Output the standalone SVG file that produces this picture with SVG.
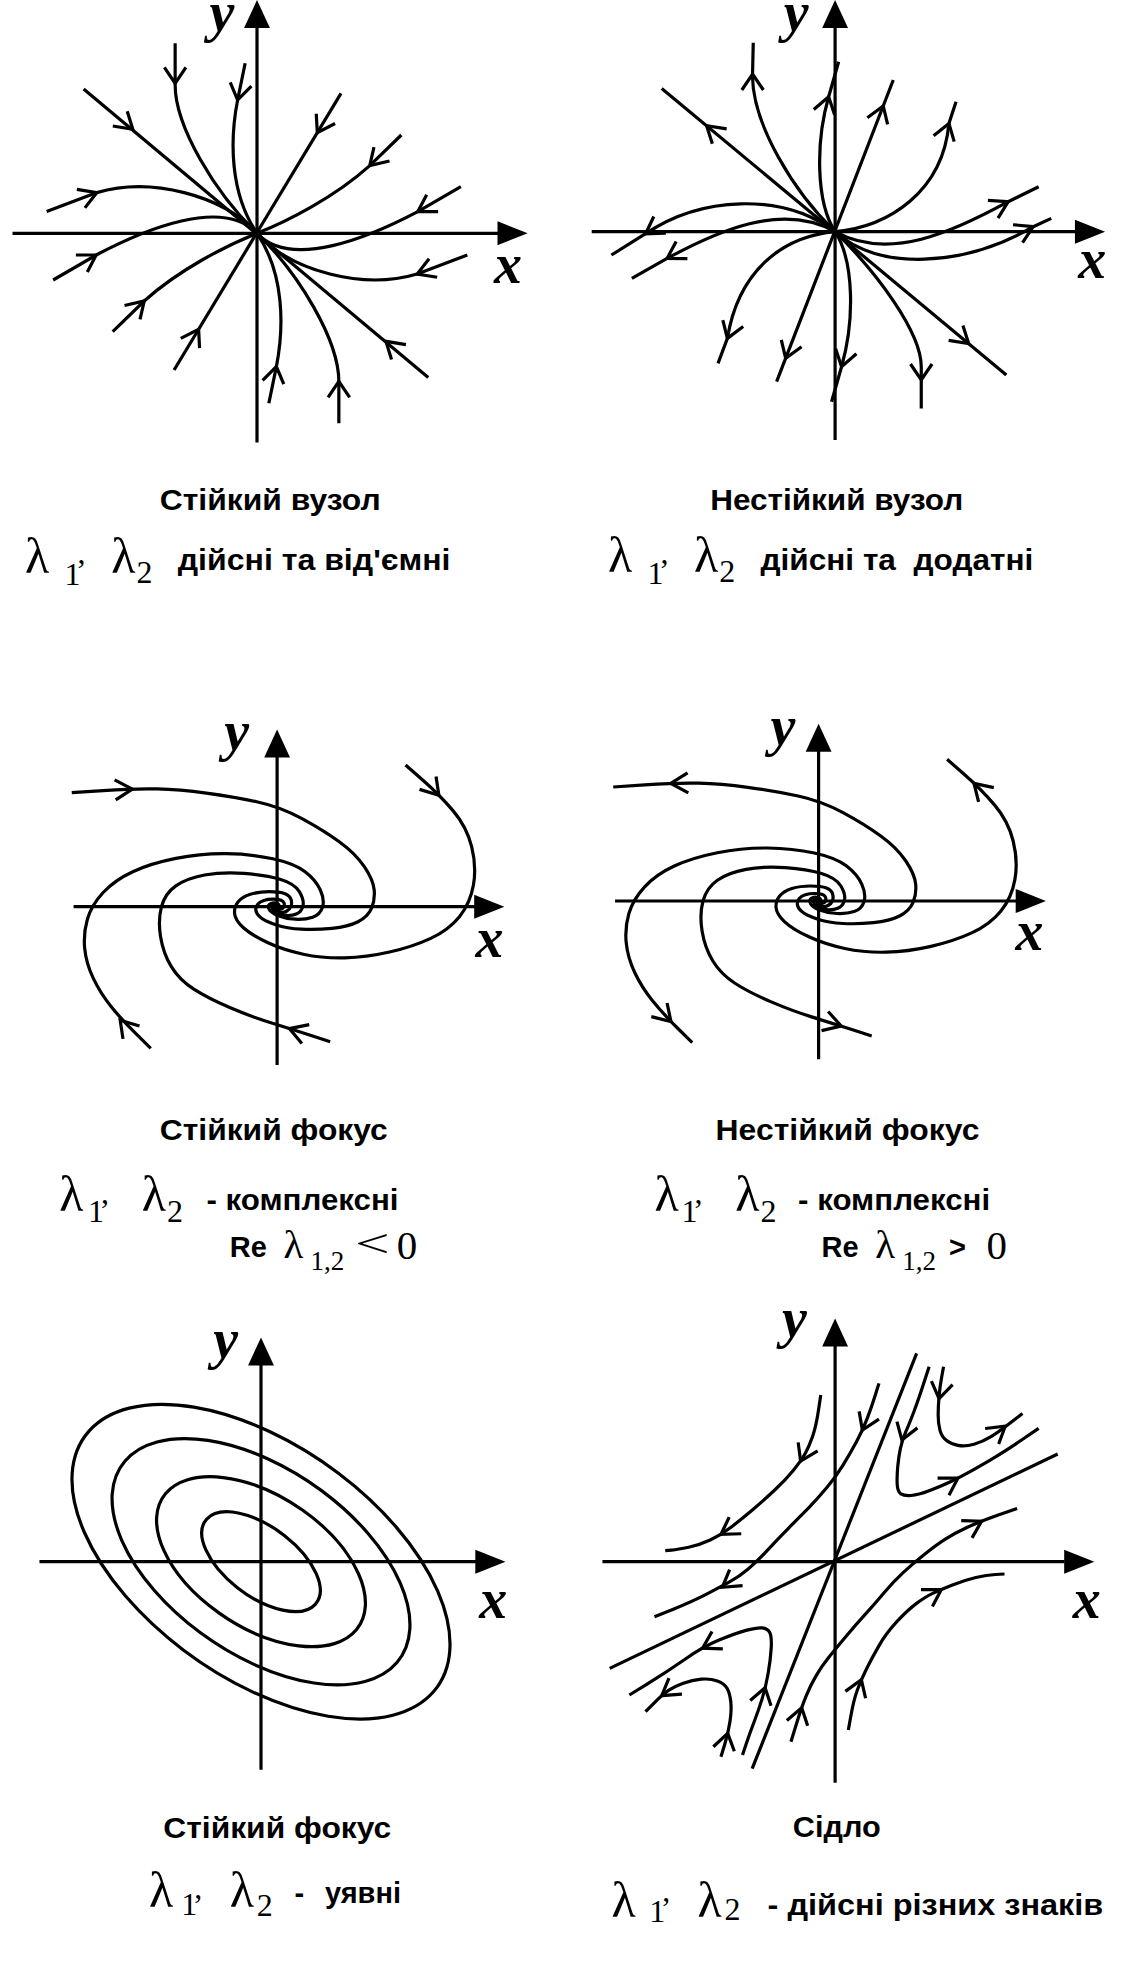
<svg xmlns="http://www.w3.org/2000/svg" width="1126" height="1962" viewBox="0 0 1126 1962">
<style>
.ln{fill:none;stroke:#000;stroke-width:3.2;vector-effect:non-scaling-stroke}
.al{font-family:"Liberation Serif","Times New Roman",serif;font-style:italic;font-weight:bold;font-size:56px}
.tt{font-family:"Liberation Sans",Arial,sans-serif;font-weight:bold;font-size:29px}
.lm{font-family:"Liberation Serif","Times New Roman",serif;font-size:50px}
.sb{font-family:"Liberation Serif","Times New Roman",serif;font-size:32px}
.lm2{font-family:"Liberation Serif","Times New Roman",serif;font-size:41px}
.sb2{font-family:"Liberation Serif","Times New Roman",serif;font-size:27px}
</style>
<defs>
<path id="ch" d="M-16,-10 L0,0 L-16,10" fill="none" stroke="#000" stroke-width="3.2" vector-effect="non-scaling-stroke"/>
<path id="ah" d="M0,0 L-28,-12 L-28,12 Z" fill="#000"/>
<g id="spiral">
<path class="ln" d="M-189,0 H184"/>
<use href="#ah" transform="translate(211,0)"/>
<path class="ln" d="M0,158.3 V-150"/>
<use href="#ah" transform="translate(0,-177.3) rotate(-90)"/>
<path class="ln" d="M-190.7,-114 L-161.5,-116.15 Q-132.3,-118.3 -111.5,-117.8 Q-90.7,-117.3 -65.7,-113.65 Q-40.7,-110 -19,-105 Q2.7,-100 22.7,-88.35 Q42.7,-76.7 57.7,-65 Q72.7,-53.3 81,-40 Q89.3,-26.7 90.15,-16.7 Q91,-6.7 87.65,1.65 Q84.3,10 75.15,15 Q66,20 51,21.65 Q36,23.3 22.65,22.5 Q9.3,21.7 -1.35,17.95 Q-12,14.2 -15.75,10.45 Q-19.5,6.7 -19.75,3.35 Q-20,0 -18,-2.5 Q-16,-5 -12.35,-6.25 Q-8.7,-7.5 -3.7,-7.5 Q1.3,-7.5 3.65,-6.5 Q6,-5.5 6.5,-3.5 Q7,-1.5 6.4,0 Q5.8,1.5 4.4,2.15 Q3,2.8 1.75,2.65 Q0.5,2.5 0,0"/>
<path class="ln" d="M119.3,-141.7 L135.15,-126.7 Q151,-111.7 163.5,-95.85 Q176,-80 180.65,-60 Q185.3,-40 182.3,-21.65 Q179.3,-3.3 169.3,10 Q159.3,23.3 142.65,31.65 Q126,40 104.35,45.35 Q82.7,50.7 62.7,51.2 Q42.7,51.7 24.35,47.5 Q6,43.3 -9,35.8 Q-24,28.3 -31.5,20.8 Q-39,13.3 -39.5,6.65 Q-40,0 -36.15,-5 Q-32.3,-10 -24.8,-12.5 Q-17.3,-15 -7.3,-15 Q2.7,-15 7.35,-13 Q12,-11 13,-7 Q14,-3 12.8,0 Q11.6,3 8.8,4.5 Q6,6 3.5,5.5 Q1,5 -0.5,3.5 Q-2,2 -1.5,0.5 Q-1,-1 0,0"/>
<path class="ln" d="M-117.3,141.7 L-130.65,127.5 Q-144,113.3 -154,100 Q-164,86.7 -170.65,71.7 Q-177.3,56.7 -178.65,41.7 Q-180,26.7 -176.15,12.5 Q-172.3,-1.7 -161.5,-14.2 Q-150.7,-26.7 -134,-35 Q-117.3,-43.3 -94,-48.3 Q-70.7,-53.3 -47.35,-53 Q-24,-52.7 -4,-48 Q16,-43.3 26,-35 Q36,-26.7 40.15,-16.7 Q44.3,-6.7 42.15,0.65 Q40,8 33,10.5 Q26,13 17,12.5 Q8,12 1,9 Q-6,6 -7.5,2.5 Q-9,-1 -7,-2.5 Q-5,-4 -2.5,-3.75 Q0,-3.5 1.25,-2.5 Q2.5,-1.5 0,0"/>
<path class="ln" d="M49.3,135 L30.15,128.35 Q11,121.7 -6.5,115.85 Q-24,110 -44,100.85 Q-64,91.7 -77.35,82.5 Q-90.7,73.3 -98.2,60 Q-105.7,46.7 -108.2,30 Q-110.7,13.3 -107.35,0 Q-104,-13.3 -94,-20.8 Q-84,-28.3 -67.35,-31.65 Q-50.7,-35 -30.7,-33.35 Q-10.7,-31.7 2.65,-27.5 Q16,-23.3 20.65,-15 Q25.3,-6.7 24,-0.85 Q22.7,5 18.35,7 Q14,9 9,8.75 Q4,8.5 0,6.25 Q-4,4 -4.5,1.75 Q-5,-0.5 -4,-1.75 Q-3,-3 -1.5,-2.5 Q0,-2 0,0"/>
</g>
</defs>
<rect width="1126" height="1962" fill="#fff"/>

<g id="panel-stable-node">
<g transform="translate(257,233.3)">
<g transform="scale(1.077,1)">
<g id="axes1">
<path class="ln" d="M-227,0 H224"/>
<use href="#ah" transform="translate(251.3,0)"/>
<path class="ln" d="M0,209.3 V-206"/>
<use href="#ah" transform="translate(0,-233.3) rotate(-90)"/>
</g>
<g id="traj1">
<path class="ln" d="M-161,-144.3 L159,144.3"/>
<path class="ln" d="M78,-140 L-77,136.7"/>
<path class="ln" d="M-76,-190 L-76,-148.3 C-76,-106.7 -38.7,-40 0,0 C38.7,40 76,106.7 76,148.3 L76,190"/>
<path class="ln" d="M-11,-170 L-18,-133.3 C-25.3,-93.3 -25.3,-40 0,0 C25.3,40 25.3,93.3 18,133.3 L11,170"/>
<path class="ln" d="M-195.3,-21.7 L-148.7,-40.7 C-98.7,-56.7 -32,-38.3 0,0 C32,38.3 98.7,56.7 148.7,40.7 L195.3,21.7"/>
<path class="ln" d="M-189.3,46.7 L-149.3,21.7 C-105.3,-3.3 -32,-36.7 0,0 C32,36.7 105.3,3.3 149.3,-21.7 L189.3,-46.7"/>
<path class="ln" d="M134,-98.3 L104.7,-67.7 C72,-36 28,-12 0,0 C-28,12 -72,36 -104.7,67.7 L-134,98.3"/>
<use href="#ch" transform="translate(-115.3,-104) rotate(42)"/>
<use href="#ch" transform="translate(119.7,108) rotate(222)"/>
<use href="#ch" transform="translate(56,-100.7) rotate(119)"/>
<use href="#ch" transform="translate(-54.2,96) rotate(-60.6)"/>
<use href="#ch" transform="translate(-76,-150) rotate(90)"/>
<use href="#ch" transform="translate(76,148) rotate(-90)"/>
<use href="#ch" transform="translate(-18,-133.3) rotate(100.7)"/>
<use href="#ch" transform="translate(18,133.3) rotate(-79.3)"/>
<use href="#ch" transform="translate(-148.7,-40.7) rotate(-22)"/>
<use href="#ch" transform="translate(148.7,40.7) rotate(158)"/>
<use href="#ch" transform="translate(-149.3,21.7) rotate(-32)"/>
<use href="#ch" transform="translate(149.3,-21.7) rotate(148)"/>
<use href="#ch" transform="translate(104.7,-67.7) rotate(134)"/>
<use href="#ch" transform="translate(-104.7,67.7) rotate(-46)"/>
</g>
</g>
<text class="al" x="-47.4" y="-202.3">y</text>
<text class="al" x="237" y="49.3">x</text>
</g>
<text class="tt" x="159.8" y="510" textLength="220.8" lengthAdjust="spacingAndGlyphs">Стійкий вузол</text>
<text class="lm" x="25.1" y="573">λ</text>
<text class="sb" x="64.6" y="585">1<tspan dx="-3" dy="-22">,</tspan></text>
<text class="lm" x="111.3" y="573">λ</text>
<text class="sb" x="136.4" y="583">2</text>
<text class="tt" x="177.7" y="570" textLength="272.8" lengthAdjust="spacingAndGlyphs">дійсні та від'ємні</text>
</g>

<g id="panel-unstable-node">
<g transform="translate(835.1,231.7)">
<g transform="scale(1.077,1)">
<g id="axes2">
<path class="ln" d="M-226,0 H224"/>
<use href="#ah" transform="translate(250.7,0)"/>
<path class="ln" d="M0,208.3 V-204"/>
<use href="#ah" transform="translate(0,-231.7) rotate(-90)"/>
</g>
<g id="traj2">
<path class="ln" d="M-161,-143.3 L159,143.3"/>
<path class="ln" d="M54,-151.7 L-54.3,150"/>
<path class="ln" d="M-76,-189 L-76.7,-155 C-76,-106.7 -38.7,-40 0,0 C38,40 80,100 80,135 L80,176.7"/>
<path class="ln" d="M3.3,-170 L-6,-135 C-18,-90 -18,-30 0,0 C18,30 18,90 6,135 L-3.3,170"/>
<path class="ln" d="M-207.7,23.3 L-176,2 C-125,-35 -50,-40 0,0 C40,40 120,35 184,-5 L200.7,-13.3"/>
<path class="ln" d="M-188.7,46.7 L-156,26.7 C-110,0 -50,-30 0,0 C50,30 110,0 160.7,-30 L189,-45"/>
<path class="ln" d="M112.3,-130 L105.7,-108.3 C100,-40 50,-5 0,0 C-50,5 -90,40 -100,106.7 L-108.7,131.7"/>
<use href="#ch" transform="translate(-119.3,-106) rotate(-138.4)"/>
<use href="#ch" transform="translate(124,111.9) rotate(41.6)"/>
<use href="#ch" transform="translate(44.7,-125.7) rotate(-70.4)"/>
<use href="#ch" transform="translate(-45.9,126.7) rotate(109.6)"/>
<use href="#ch" transform="translate(-76.6,-157.7) rotate(-90)"/>
<use href="#ch" transform="translate(80,148.3) rotate(90)"/>
<use href="#ch" transform="translate(-6,-135) rotate(-75)"/>
<use href="#ch" transform="translate(6,135) rotate(105)"/>
<use href="#ch" transform="translate(-176,2) rotate(146)"/>
<use href="#ch" transform="translate(184,-5) rotate(-26)"/>
<use href="#ch" transform="translate(-156,26.7) rotate(148.5)"/>
<use href="#ch" transform="translate(160.7,-30) rotate(-28)"/>
<use href="#ch" transform="translate(105.7,-108.3) rotate(-73)"/>
<use href="#ch" transform="translate(-100,106.7) rotate(109)"/>
</g>
</g>
<text class="al" x="-51.4" y="-200.7">y</text>
<text class="al" x="243.1" y="46.7">x</text>
</g>
<text class="tt" x="710.2" y="510" textLength="253.1" lengthAdjust="spacingAndGlyphs">Нестійкий вузол</text>
<text class="lm" x="607.9" y="572">λ</text>
<text class="sb" x="647.4" y="584">1<tspan dx="-3" dy="-21">,</tspan></text>
<text class="lm" x="694" y="572">λ</text>
<text class="sb" x="719.2" y="582">2</text>
<text class="tt" x="760.5" y="570" xml:space="preserve" textLength="272.8" lengthAdjust="spacingAndGlyphs">дійсні та  додатні</text>
</g>

<g id="panel-stable-focus">
<g transform="translate(277.1,906.7)">
<g transform="scale(1.077,1)">
<use href="#spiral"/>
<g id="arrows3">
<use href="#ch" transform="translate(-134.4,-117.6) rotate(-3)"/>
<use href="#ch" transform="translate(150.2,-111.5) rotate(50)"/>
<use href="#ch" transform="translate(-145.7,113.5) rotate(-130)"/>
<use href="#ch" transform="translate(11.4,121.9) rotate(200)"/>
</g>
</g>
<text class="al" x="-52.8" y="-157">y</text>
<text class="al" x="198.5" y="50">x</text>
</g>
<text class="tt" x="159.8" y="1140" textLength="228" lengthAdjust="spacingAndGlyphs">Стійкий фокус</text>
<text class="lm" x="59.2" y="1211">λ</text>
<text class="sb" x="88" y="1222">1<tspan dx="-3" dy="-19">,</tspan></text>
<text class="lm" x="141.8" y="1211">λ</text>
<text class="sb" x="166.9" y="1222">2</text>
<text class="tt" x="206.4" y="1210" textLength="192.1" lengthAdjust="spacingAndGlyphs">- комплексні</text>
<text class="tt" x="229.8" y="1257">Re</text>
<text class="lm2" x="283.6" y="1258">λ</text>
<text class="sb2" x="310.5" y="1270">1,2</text>
<text class="lm2" transform="translate(355,1257) scale(1.5,1)">&lt;</text>
<text class="lm2" x="396.7" y="1259">0</text>
</g>

<g id="panel-unstable-focus">
<g transform="translate(818.6,901)">
<g transform="scale(1.077,1)">
<use href="#spiral"/>
<g id="arrows4">
<use href="#ch" transform="translate(-137.3,-117.5) rotate(178)"/>
<use href="#ch" transform="translate(144.3,-117.6) rotate(-135)"/>
<use href="#ch" transform="translate(-137.1,120.5) rotate(47)"/>
<use href="#ch" transform="translate(21,125) rotate(18)"/>
</g>
</g>
<text class="al" x="-48.1" y="-156.3">y</text>
<text class="al" x="196.8" y="49">x</text>
</g>
<text class="tt" x="715.6" y="1140" textLength="263.8" lengthAdjust="spacingAndGlyphs">Нестійкий фокус</text>
<text class="lm" x="654.5" y="1211">λ</text>
<text class="sb" x="681.5" y="1222">1<tspan dx="-3" dy="-19">,</tspan></text>
<text class="lm" x="735.3" y="1211">λ</text>
<text class="sb" x="760.5" y="1222">2</text>
<text class="tt" x="798.1" y="1210" textLength="192.1" lengthAdjust="spacingAndGlyphs">- комплексні</text>
<text class="tt" x="821.5" y="1257">Re</text>
<text class="lm2" x="875.3" y="1258">λ</text>
<text class="sb2" x="902.3" y="1270">1,2</text>
<text class="tt" x="948.9" y="1257">&gt;</text>
<text class="lm2" x="986.6" y="1259">0</text>
</g>

<g id="panel-center">
<g transform="translate(261,1561.7)">
<g transform="scale(1.077,1)">
<g id="axes5">
<path class="ln" d="M-205.7,0 H200"/>
<use href="#ah" transform="translate(227,0)"/>
<path class="ln" d="M0,208 V-197"/>
<use href="#ah" transform="translate(0,-224.3) rotate(-90)"/>
</g>
<g id="orbits5">
<ellipse class="ln" rx="206.3" ry="114" transform="rotate(39.1)"/>
<ellipse class="ln" rx="161.5" ry="90.6" transform="rotate(38.6)"/>
<ellipse class="ln" rx="111.7" ry="64.4" transform="rotate(37.4)"/>
<ellipse class="ln" rx="66" ry="34" transform="rotate(40.2)"/>
</g>
</g>
<text class="al" x="-47.7" y="-203.7">y</text>
<text class="al" x="218.3" y="56.7">x</text>
</g>
<text class="tt" x="163.3" y="1838" textLength="228" lengthAdjust="spacingAndGlyphs">Стійкий фокус</text>
<text class="lm" x="149" y="1906.5">λ</text>
<text class="sb" x="181.3" y="1915">1<tspan dx="-3" dy="-17">,</tspan></text>
<text class="lm" x="229.8" y="1906.5">λ</text>
<text class="sb" x="256.7" y="1916">2</text>
<text class="tt" x="294.4" y="1903">-<tspan x="324.9">уявні</tspan></text>
</g>

<g id="panel-saddle">
<g transform="translate(835.1,1561.7)">
<g transform="scale(1.077,1)">
<g id="axes6">
<path class="ln" d="M-216,0 H213"/>
<use href="#ah" transform="translate(240.7,0)"/>
<path class="ln" d="M0,221 V-216"/>
<use href="#ah" transform="translate(0,-243.3) rotate(-90)"/>
</g>
<g id="traj6">
<path class="ln" d="M75.7,-208.3 L-77,207"/>
<path class="ln" d="M206.7,-107.7 L-209.3,106.7"/>
<path class="ln" d="M-13.3,-166.7 L-15.5,-150.85 Q-17.7,-135 -21,-125 Q-24.3,-115 -27.65,-108.35 Q-31,-101.7 -38.5,-91.7 Q-46,-81.7 -56,-71.7 Q-66,-61.7 -76,-52.5 Q-86,-43.3 -96,-35 Q-106,-26.7 -116,-21.7 Q-126,-16.7 -136,-14.5 Q-146,-12.3 -151.85,-11.65 L-157.7,-11"/>
<path class="ln" d="M40.7,-178.3 L37.35,-166.65 Q34,-155 29.85,-143.35 Q25.7,-131.7 19.85,-120 Q14,-108.3 7.35,-96.65 Q0.7,-85 -7.65,-74.15 Q-16,-63.3 -24.35,-54.15 Q-32.7,-45 -42.7,-34.15 Q-52.7,-23.3 -62.7,-11.65 Q-72.7,0 -81,7.5 Q-89.3,15 -97.65,20 Q-106,25 -119.35,32.5 Q-132.7,40 -150.2,47.5 L-167.7,55"/>
<path class="ln" d="M87.3,-195 L82.3,-178.35 Q77.3,-161.7 73.15,-150 Q69,-138.3 65.65,-130 Q62.3,-121.7 60.65,-113.35 Q59,-105 58.15,-95 Q57.3,-85 57.65,-77.5 Q58,-70 61,-67.85 Q64,-65.7 70.65,-66.2 Q77.3,-66.7 87.3,-70.85 Q97.3,-75 105.65,-79.15 Q114,-83.3 122.35,-88.3 Q130.7,-93.3 144,-101.65 Q157.3,-110 173.15,-121.65 L189,-133.3"/>
<path class="ln" d="M100.7,-195 L99,-185 Q97.3,-175 96.5,-165 Q95.7,-155 95.7,-146.65 Q95.7,-138.3 97.35,-131.65 Q99,-125 103.15,-121.35 Q107.3,-117.7 114,-116.35 Q120.7,-115 129,-117.5 Q137.3,-120 144.8,-125 Q152.3,-130 163.15,-139.15 L174,-148.3"/>
<path class="ln" d="M169,-53.3 L151.5,-46.65 Q134,-40 122.35,-34.15 Q110.7,-28.3 102.35,-22.5 Q94,-16.7 83.15,-7.5 Q72.3,1.7 63.15,10.85 Q54,20 45.65,30.85 Q37.3,41.7 28.15,52.5 Q19,63.3 9.85,75 Q0.7,86.7 -6,95.85 Q-12.7,105 -17.7,114.15 Q-22.7,123.3 -26.85,134.15 Q-31,145 -36,162.5 L-41,180"/>
<path class="ln" d="M12.3,168.3 L14.8,153.3 Q17.3,138.3 20.65,128.3 Q24,118.3 29,107.5 Q34,96.7 40.65,84.2 Q47.3,71.7 57.3,60 Q67.3,48.3 75.65,41.65 Q84,35 90.65,31.65 Q97.3,28.3 109,23.3 Q120.7,18.3 130.7,15.8 Q140.7,13.3 149,12.8 L157.3,12.3"/>
<path class="ln" d="M-191,133.3 L-173.5,121.65 Q-156,110 -139.35,97.5 Q-122.7,85 -107.7,78.35 Q-92.7,71.7 -82.7,68.7 Q-72.7,65.7 -67.7,66.2 Q-62.7,66.7 -60.7,70.85 Q-58.7,75 -59.35,86.65 Q-60,98.3 -62.15,111.65 Q-64.3,125 -67.65,136.65 Q-71,148.3 -75.15,160 Q-79.3,171.7 -82.65,182.5 L-86,193.3"/>
<path class="ln" d="M-106,195 L-102.65,183.35 Q-99.3,171.7 -97.65,160 Q-96,148.3 -96.85,140 Q-97.7,131.7 -100.2,126.7 Q-102.7,121.7 -109.35,119.2 Q-116,116.7 -124.35,117.5 Q-132.7,118.3 -141,121.65 Q-149.3,125 -154.3,128.35 Q-159.3,131.7 -167.65,140.85 L-176,150"/>
<use href="#ch" transform="translate(-32,-100.6) rotate(115)"/>
<use href="#ch" transform="translate(-106,-27.3) rotate(146)"/>
<use href="#ch" transform="translate(25.3,-131.7) rotate(113)"/>
<use href="#ch" transform="translate(-104.7,25.6) rotate(143)"/>
<use href="#ch" transform="translate(62,-121.7) rotate(108)"/>
<use href="#ch" transform="translate(114,-83.5) rotate(-32)"/>
<use href="#ch" transform="translate(96.5,-163) rotate(100)"/>
<use href="#ch" transform="translate(158,-135.5) rotate(-39)"/>
<use href="#ch" transform="translate(136,-40.5) rotate(-30)"/>
<use href="#ch" transform="translate(-31,146) rotate(-75)"/>
<use href="#ch" transform="translate(24.4,118.1) rotate(-70)"/>
<use href="#ch" transform="translate(98.6,27.9) rotate(-32)"/>
<use href="#ch" transform="translate(-123.1,86.5) rotate(150)"/>
<use href="#ch" transform="translate(-65,126) rotate(-75)"/>
<use href="#ch" transform="translate(-99.7,171.7) rotate(-77)"/>
<use href="#ch" transform="translate(-161,134) rotate(143)"/>
</g>
</g>
<text class="al" x="-53.1" y="-224.3">y</text>
<text class="al" x="237.7" y="56.7">x</text>
</g>
<text class="tt" x="792.8" y="1837" textLength="88" lengthAdjust="spacingAndGlyphs">Сідло</text>
<text class="lm" x="611.5" y="1916.5">λ</text>
<text class="sb" x="649.2" y="1921.5">1<tspan dx="-3" dy="-20.5">,</tspan></text>
<text class="lm" x="697.6" y="1916.5">λ</text>
<text class="sb" x="724.6" y="1920">2</text>
<text class="tt" x="767.6" y="1915" textLength="335.7" lengthAdjust="spacingAndGlyphs">- дійсні різних знаків</text>
</g>
</svg>
